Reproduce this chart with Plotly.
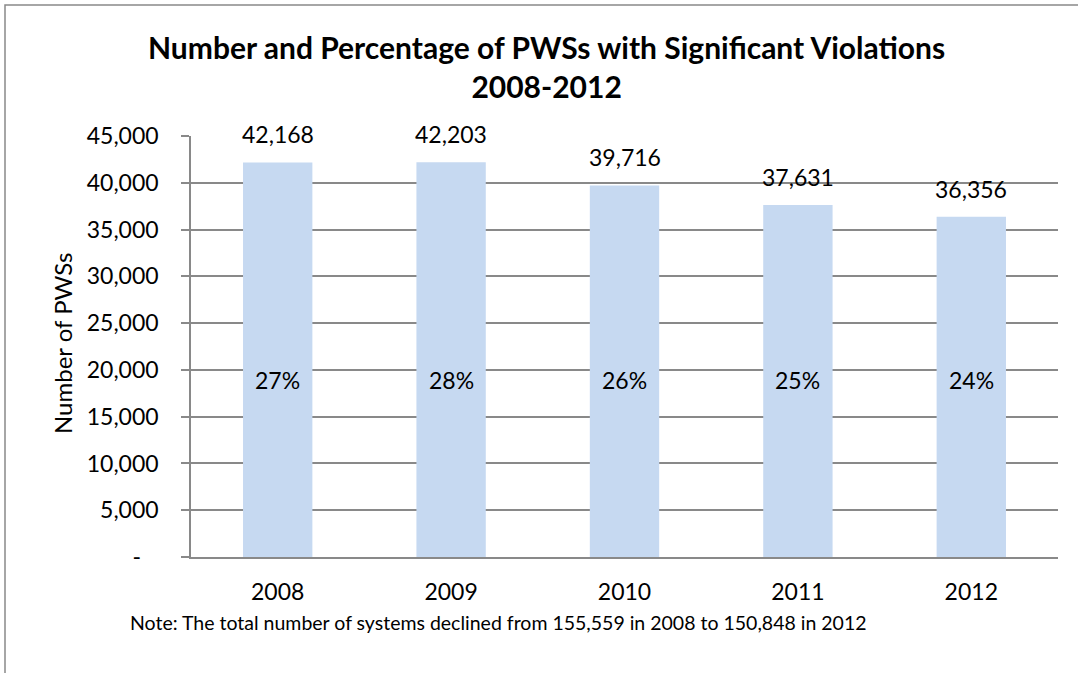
import plotly.graph_objects as go

# Data
years = ["2008", "2009", "2010", "2011", "2012"]
pws_counts = [42168, 42203, 39716, 37631, 36356]
pct_labels = ["27%", "28%", "26%", "25%", "24%"]
pct_label_level = 18900  # y level (number of PWSs) where the percentage labels sit
y_tickvals = [0, 5000, 10000, 15000, 20000, 25000, 30000, 35000, 40000, 45000]
y_ticktext = ["-\u00a0\u00a0\u00a0", "5,000", "10,000", "15,000", "20,000", "25,000",
              "30,000", "35,000", "40,000", "45,000"]

FONT = "Lato"
GRID = "#898989"
BAR = "#c6d9f1"

W, H = 1078, 673
ML, MR, MT, MB = 191, 20, 136, 116
PW = W - ML - MR
PH = H - MT - MB


def px_x(px):
    return (px - ML) / PW


def px_y(py):
    return (H - MB - py) / PH


fig = go.Figure()
fig.add_trace(go.Bar(
    x=years, y=pws_counts, marker=dict(color=BAR, line=dict(width=0)),
    width=0.4, hoverinfo="x+y",
))

annotations = []
# category index is used for x so numeric-looking year names are not read as positions
for i, v in enumerate(pws_counts):
    annotations.append(dict(
        x=i, y=v, xref="x", yref="y", text=f"{v:,}", showarrow=False,
        yanchor="bottom", yshift=12, font=dict(family=FONT, size=23, color="#000"),
    ))
for i, p in enumerate(pct_labels):
    annotations.append(dict(
        x=i, y=pct_label_level, xref="x", yref="y", text=p, showarrow=False,
        yanchor="middle", font=dict(family=FONT, size=23, color="#000"),
    ))

# y-axis title
annotations.append(dict(
    x=px_x(62), y=px_y(344), xref="paper", yref="paper", text="Number of PWSs",
    textangle=-90, showarrow=False, xanchor="center", yanchor="middle",
    font=dict(family=FONT, size=24, color="#000"),
))
# footnote
annotations.append(dict(
    x=px_x(498), y=px_y(622), xref="paper", yref="paper",
    text="Note: The total number of systems declined from 155,559 in 2008 to 150,848 in 2012",
    showarrow=False, xanchor="center", yanchor="middle",
    font=dict(family=FONT, size=19.5, color="#000"),
))
# chart title (two lines)
annotations.append(dict(
    x=px_x(546), y=px_y(67), xref="paper", yref="paper",
    text="<b>Number and Percentage of PWSs with Significant Violations<br>2008-2012</b>",
    showarrow=False, xanchor="center", yanchor="middle",
    font=dict(family=FONT, size=30, color="#000"),
))

fig.update_layout(
    width=W, height=H,
    margin=dict(l=ML, r=MR, t=MT, b=MB),
    paper_bgcolor="white", plot_bgcolor="white",
    showlegend=False,
    annotations=annotations,
    shapes=[dict(
        type="rect", xref="paper", yref="paper",
        x0=px_x(5), x1=px_x(1100), y0=px_y(700), y1=px_y(5),
        line=dict(color=GRID, width=1.5), fillcolor="rgba(0,0,0,0)", layer="below",
    )],
)

fig.update_yaxes(
    range=[0, 45000], tickvals=y_tickvals, ticktext=y_ticktext,
    showgrid=True, gridcolor=GRID, gridwidth=1.5,
    showline=True, linecolor=GRID, linewidth=1.5,
    ticks="outside", ticklen=8, tickcolor=GRID, tickwidth=1.5,
    ticklabelstandoff=18, zeroline=False,
    tickfont=dict(family=FONT, size=23, color="#000"),
)
fig.update_xaxes(
    type="category", range=[-0.5, len(years) - 0.5],
    showline=True, linecolor=GRID, linewidth=1.5, ticks="",
    ticklabelstandoff=14,
    tickfont=dict(family=FONT, size=23, color="#000"),
)

fig.write_html("out.html")
